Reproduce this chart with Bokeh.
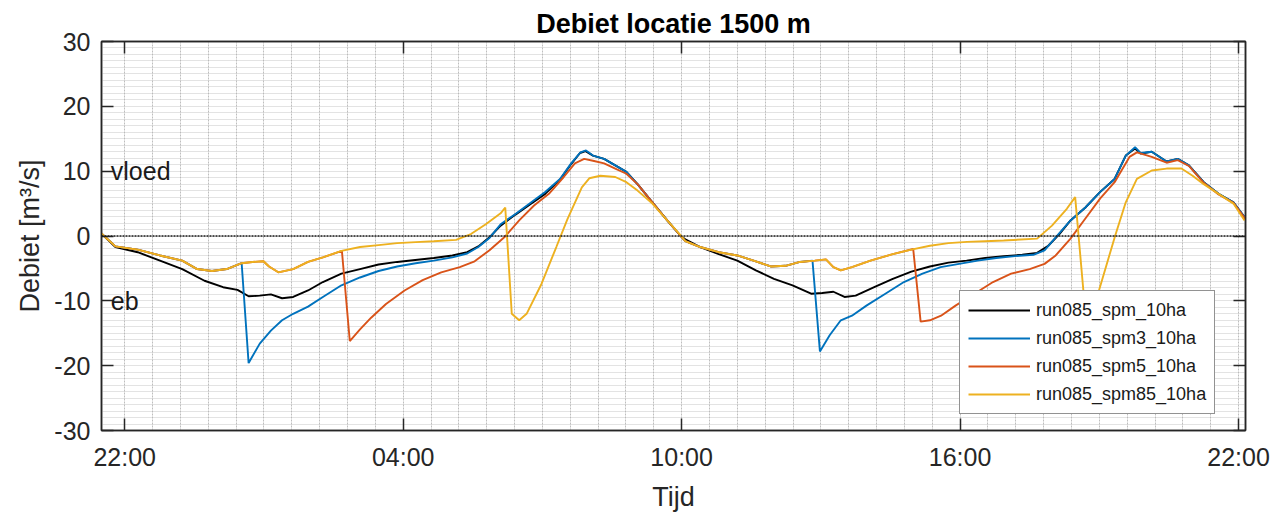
import numpy as np
from bokeh.plotting import figure
from bokeh.models import FixedTicker, LinearAxis, Span, Label, Range1d
from bokeh.embed import file_html
from bokeh.resources import INLINE

# ---------------- data (time in hours after 22:00 of day 1) ----------------
tick_hours = [0, 6, 12, 18, 24]
tick_labels = ["22:00", "04:00", "10:00", "16:00", "22:00"]
y_ticks = [-30, -20, -10, 0, 10, 20, 30]
y_tick_labels = ["-30", "-20", "-10", "0", "10", "20", "30"]

names = ["run085_spm_10ha", "run085_spm3_10ha", "run085_spm5_10ha", "run085_spm85_10ha"]
colors = ["#000000", "#0072BD", "#D95319", "#EDB120"]

t_spm = [-0.52, -0.20, 0.28, 0.76, 1.24, 1.72, 2.12, 2.43, 2.67, 2.91, 3.15, 3.39, 3.63,
         3.95, 4.27, 4.67, 5.07, 5.47, 5.87, 6.26, 6.66, 7.06, 7.38, 7.62, 7.86, 8.10,
         8.42, 8.74, 9.06, 9.38, 9.62, 9.81, 9.93, 10.09, 10.33, 10.57, 10.81, 11.05,
         11.37, 11.69, 11.98, 12.08, 12.40, 12.80, 13.20, 13.60, 13.99, 14.39, 14.79,
         15.03, 15.27, 15.51, 15.75, 16.15, 16.55, 16.95, 17.35, 17.75, 18.14, 18.54,
         18.94, 19.34, 19.66, 19.90, 20.14, 20.38, 20.70, 21.02, 21.33, 21.57, 21.77,
         21.89, 22.13, 22.45, 22.69, 22.93, 23.25, 23.57, 23.89, 24.15]
q_spm = [0.5, -1.7, -2.5, -3.8, -5.1, -6.9, -7.9, -8.3, -9.3, -9.2, -9.0, -9.6, -9.4,
         -8.4, -7.1, -5.8, -5.1, -4.4, -4.0, -3.7, -3.4, -3.0, -2.5, -1.6, -0.2, 1.6,
         3.3, 4.9, 6.5, 8.7, 11.1, 12.8, 13.1, 12.4, 11.9, 10.9, 9.9, 8.0,
         5.2, 2.4, 0.0, -0.5, -1.7, -2.8, -3.8, -5.3, -6.6, -7.6, -8.9,
         -8.8, -8.6, -9.4, -9.2, -7.9, -6.6, -5.5, -4.7, -4.1, -3.8, -3.4,
         -3.1, -2.9, -2.6, -1.5, 0.3, 2.4, 4.4, 6.8, 8.8, 12.4, 13.5,
         12.7, 13.0, 11.5, 11.9, 10.9, 8.3, 6.5, 5.2, 2.7]

t_spm3 = [-0.52, -0.20, 0.28, 0.76, 1.24, 1.56, 1.88, 2.20, 2.52, 2.67, 2.91, 3.15, 3.39,
          3.63, 3.95, 4.27, 4.67, 5.07, 5.47, 5.87, 6.27, 6.66, 7.06, 7.38, 7.62, 7.86,
          8.10, 8.42, 8.74, 9.06, 9.38, 9.62, 9.82, 9.94, 10.09, 10.33, 10.57, 10.81,
          11.05, 11.37, 11.69, 11.98, 12.08, 12.40, 12.80, 13.20, 13.60, 13.92, 14.24,
          14.55, 14.82, 14.98, 15.19, 15.43, 15.67, 15.99, 16.39, 16.79, 17.19, 17.58,
          17.98, 18.38, 18.78, 19.18, 19.58, 19.82, 20.06, 20.38, 20.70, 21.02, 21.33,
          21.57, 21.77, 21.89, 22.13, 22.45, 22.69, 22.93, 23.25, 23.57, 23.89, 24.15]
q_spm3 = [0.5, -1.6, -2.1, -3.0, -3.8, -5.1, -5.4, -5.1, -4.2, -19.6, -16.6, -14.6, -13.0,
          -12.0, -10.9, -9.4, -7.6, -6.4, -5.4, -4.7, -4.2, -3.8, -3.3, -2.7, -1.7, -0.3,
          1.8, 3.4, 5.1, 6.8, 8.8, 11.2, 12.9, 13.2, 12.4, 11.9, 10.9, 9.9,
          8.0, 5.2, 2.4, 0.0, -0.8, -1.7, -2.5, -3.0, -3.9, -4.7, -4.6,
          -4.0, -3.8, -17.8, -15.3, -13.0, -12.3, -10.7, -8.9, -7.1, -5.8, -4.8,
          -4.3, -3.8, -3.4, -3.1, -2.9, -2.2, -0.2, 2.4, 4.4, 6.8, 8.8,
          12.4, 13.7, 12.8, 13.0, 11.5, 11.9, 10.9, 8.3, 6.5, 5.2, 2.7]

t_spm5 = [-0.52, -0.20, 0.28, 0.76, 1.24, 1.56, 1.88, 2.20, 2.52, 2.75, 2.99, 3.11, 3.31,
          3.63, 3.95, 4.27, 4.68, 4.85, 5.07, 5.31, 5.63, 6.03, 6.42, 6.82, 7.22, 7.54,
          7.86, 8.18, 8.50, 8.82, 9.14, 9.46, 9.70, 9.90, 10.09, 10.33, 10.57, 10.81,
          11.05, 11.37, 11.69, 11.98, 12.08, 12.40, 12.80, 13.20, 13.60, 13.92, 14.24,
          14.55, 14.87, 15.11, 15.27, 15.43, 15.67, 16.07, 16.55, 16.99, 17.15, 17.35,
          17.59, 17.91, 18.31, 18.71, 19.10, 19.50, 19.82, 20.06, 20.38, 20.70, 21.02,
          21.33, 21.65, 21.81, 22.13, 22.45, 22.69, 22.93, 23.25, 23.57, 23.89, 24.15]
q_spm5 = [0.5, -1.6, -2.1, -3.0, -3.8, -5.1, -5.4, -5.1, -4.2, -4.0, -3.9, -4.7, -5.6,
          -5.1, -4.0, -3.3, -2.3, -16.2, -14.4, -12.6, -10.5, -8.4, -6.8, -5.6, -4.8, -3.9,
          -2.2, -0.2, 2.4, 4.7, 6.5, 9.1, 11.2, 11.9, 11.6, 11.2, 10.4, 9.6,
          8.0, 5.2, 2.4, 0.0, -0.8, -1.7, -2.5, -3.0, -3.9, -4.7, -4.6,
          -4.0, -3.8, -3.6, -4.8, -5.3, -4.8, -3.8, -2.8, -2.0, -13.2, -13.0,
          -12.3, -10.7, -8.9, -7.1, -5.8, -5.1, -4.3, -3.0, -0.4, 2.7, 5.8,
          8.3, 12.2, 12.9, 12.2, 11.3, 11.7, 10.8, 8.2, 6.4, 5.1, 2.6]

t_spm85 = [-0.52, -0.20, 0.28, 0.76, 1.24, 1.56, 1.88, 2.20, 2.52, 2.75, 2.99, 3.11, 3.31,
           3.63, 3.95, 4.27, 4.67, 5.07, 5.47, 5.87, 6.27, 6.66, 7.14, 7.46, 7.78, 8.10,
           8.20, 8.34, 8.50, 8.66, 8.98, 9.30, 9.54, 9.85, 10.01, 10.25, 10.57, 10.81,
           11.05, 11.37, 11.69, 11.98, 12.08, 12.40, 12.80, 13.20, 13.60, 13.92, 14.24,
           14.55, 14.87, 15.11, 15.27, 15.43, 15.67, 16.07, 16.55, 16.95, 17.35, 17.75,
           18.15, 18.54, 18.94, 19.66, 19.98, 20.30, 20.48, 20.66, 20.74, 20.98, 21.34,
           21.57, 21.81, 22.13, 22.45, 22.77, 23.01, 23.25, 23.57, 23.89, 24.13]
q_spm85 = [0.5, -1.6, -2.1, -3.0, -3.8, -5.1, -5.4, -5.1, -4.2, -4.0, -3.9, -4.7, -5.6,
           -5.1, -4.0, -3.3, -2.3, -1.7, -1.4, -1.1, -0.95, -0.8, -0.6, 0.3, 1.8, 3.5,
           4.4, -12.0, -13.0, -12.0, -7.4, -1.7, 2.6, 7.5, 8.9, 9.3, 9.1, 8.3,
           7.0, 5.0, 2.4, 0.1, -0.8, -1.7, -2.5, -3.0, -3.9, -4.7, -4.6,
           -4.0, -3.8, -3.6, -4.8, -5.3, -4.8, -3.8, -2.8, -2.1, -1.5, -1.1,
           -0.9, -0.8, -0.7, -0.4, 1.6, 4.2, 6.0, -8.7, -13.2, -8.7, 0.0,
           5.2, 8.8, 10.1, 10.4, 10.4, 9.3, 8.0, 6.5, 5.0, 2.4]

series_t = [t_spm, t_spm3, t_spm5, t_spm85]
series_q = [q_spm, q_spm3, q_spm5, q_spm85]

FONT = "Liberation Sans"
AX = "#262626"

p = figure(width=1284, height=514, output_backend="svg", toolbar_location=None,
           x_range=Range1d(-0.5, 24.15), y_range=Range1d(-30, 30),
           min_border_left=101, min_border_right=39, min_border_top=41, min_border_bottom=84,
           x_axis_label="Tijd", y_axis_label="Debiet [m³/s]")
p.background_fill_color = "white"
p.border_fill_color = "white"
p.outline_line_color = AX
p.outline_line_width = 1.5

p.title.text = "Debiet locatie 1500 m"
p.title.align = "center"
p.title.text_font = FONT
p.title.text_font_size = "27px"
p.title.text_font_style = "bold"
p.title.text_color = "#000000"
p.title.standoff = 6

# grids: fine dotted grid (10 per major interval)
p.xgrid.ticker = FixedTicker(ticks=[round(-0.6 + 0.6 * i, 2) for i in range(43)])
p.ygrid.ticker = FixedTicker(ticks=list(range(-30, 31)))
p.xgrid.grid_line_color = "#a8a8a8"
p.xgrid.grid_line_alpha = 0.75
p.xgrid.grid_line_dash = "2 1"
p.ygrid.grid_line_color = "#b4b4b4"
p.ygrid.grid_line_alpha = 0.75
p.ygrid.grid_line_dash = "1 1"

def style_axis(ax, labels=True):
    ax.axis_line_color = AX
    ax.axis_line_width = 1.5
    ax.major_tick_line_color = AX
    ax.major_tick_line_width = 1.5
    ax.major_tick_in = 12
    ax.major_tick_out = 0
    ax.minor_tick_line_color = None
    ax.major_label_text_font = FONT
    if labels:
        ax.major_label_text_font_size = "25px"
        ax.major_label_text_color = AX
    else:
        ax.major_label_text_font_size = "1px"
        ax.major_label_text_color = None
    ax.axis_label_text_font = FONT
    ax.axis_label_text_font_size = "27px"
    ax.axis_label_text_font_style = "normal"
    ax.axis_label_text_color = AX

xb = p.xaxis[0]
xb.ticker = FixedTicker(ticks=tick_hours)
xb.major_label_overrides = {h: lab for h, lab in zip(tick_hours, tick_labels)}
style_axis(xb)
xb.major_label_standoff = 12
xb.axis_label_standoff = 8

yl = p.yaxis[0]
yl.ticker = FixedTicker(ticks=y_ticks)
yl.major_label_overrides = {v: lab for v, lab in zip(y_ticks, y_tick_labels)}
style_axis(yl)
yl.major_label_standoff = 11
yl.axis_label_standoff = 6

xt = LinearAxis(ticker=FixedTicker(ticks=tick_hours))
style_axis(xt, labels=False)
xt.major_label_standoff = 0
p.add_layout(xt, "above")
yr = LinearAxis(ticker=FixedTicker(ticks=y_ticks))
style_axis(yr, labels=False)
yr.major_label_standoff = 0
p.add_layout(yr, "right")

# zero line
p.add_layout(Span(location=0, dimension="width", line_color="#1a1a1a",
                  line_dash="2 1", line_width=1.6))

for t, q, c, n in zip(series_t, series_q, colors, names):
    p.line(t, q, line_color=c, line_width=1.9, legend_label=n)

for txt, yv in (("vloed", 10), ("eb", -10)):
    p.add_layout(Label(x=-0.3, y=yv, text=txt, text_font=FONT, text_font_size="25px",
                       text_color="#1a1a1a", text_baseline="middle", text_align="left"))

lg = p.legend[0]
lg.location = (858, 16)
lg.label_text_font = FONT
lg.label_text_font_size = "18px"
lg.label_text_color = "#1a1a1a"
lg.glyph_width = 62
lg.glyph_height = 22
lg.label_height = 22
lg.label_width = 170
lg.label_standoff = 6
lg.spacing = 6
lg.padding = 8
lg.margin = 0
lg.border_line_color = AX
lg.border_line_width = 1.2
lg.background_fill_color = "white"
lg.background_fill_alpha = 1.0

open("out.html", "w").write(file_html(p, INLINE))
